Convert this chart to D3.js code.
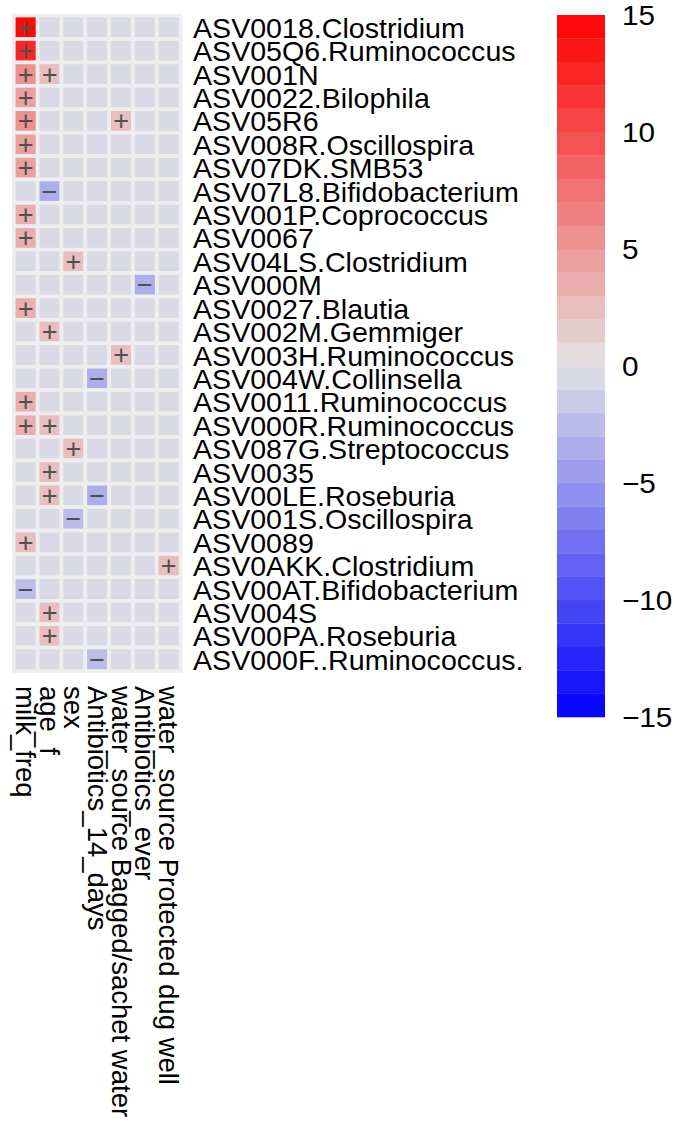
<!DOCTYPE html>
<html>
<head>
<meta charset="utf-8">
<script src="https://cdn.jsdelivr.net/npm/d3@7"></script>
<style>
  body { margin: 0; background: #ffffff; }
  text { font-family: "Liberation Sans", Arial, Helvetica, sans-serif; }
</style>
</head>
<body>
<svg id="chart" width="677" height="1126"></svg>
<script>
const rowNames = [
    "ASV0018.Clostridium", "ASV05Q6.Ruminococcus", "ASV001N", "ASV0022.Bilophila",
    "ASV05R6", "ASV008R.Oscillospira", "ASV07DK.SMB53", "ASV07L8.Bifidobacterium",
    "ASV001P.Coprococcus", "ASV0067", "ASV04LS.Clostridium", "ASV000M",
    "ASV0027.Blautia", "ASV002M.Gemmiger", "ASV003H.Ruminococcus", "ASV004W.Collinsella",
    "ASV0011.Ruminococcus", "ASV000R.Ruminococcus", "ASV087G.Streptococcus", "ASV0035",
    "ASV00LE.Roseburia", "ASV001S.Oscillospira", "ASV0089", "ASV0AKK.Clostridium",
    "ASV00AT.Bifidobacterium", "ASV004S", "ASV00PA.Roseburia", "ASV000F..Ruminococcus."
];

const colNames = [
    "milk_freq", "age_f", "sex", "Antibiotics_14_days",
    "water_source Bagged/sachet water", "Antibiotics_ever", "water_source Protected dug well"
];

// one array per column, 28 values (one per row)
const milkFreq       = [14.5, 12.5, 5.5, 5, 5.5, 5, 5, 0, 4, 4, 0, 0, 3.5, 0, 0, 0, 3.5, 3.5, 0, 0, 0, 0, 3, 0, -2.5, 0, 0, 0];
const ageF           = [0, 0, 2.5, 0, 0, 0, 0, -3.5, 0, 0, 0, 0, 0, 3, 0, 0, 0, 3, 0, 3, 2.5, 0, 0, 0, 0, 3, 2.5, 0];
const sexVals        = [0, 0, 0, 0, 0, 0, 0, 0, 0, 0, 3, 0, 0, 0, 0, 0, 0, 0, 3, 0, 0, -2.5, 0, 0, 0, 0, 0, 0];
const antibiotics14  = [0, 0, 0, 0, 0, 0, 0, 0, 0, 0, 0, 0, 0, 0, 0, -3, 0, 0, 0, 0, -3, 0, 0, 0, 0, 0, 0, -2.5];
const waterBagged    = [0, 0, 0, 0, 2.5, 0, 0, 0, 0, 0, 0, 0, 0, 0, 3, 0, 0, 0, 0, 0, 0, 0, 0, 0, 0, 0, 0, 0];
const antibioticsEver = [0, 0, 0, 0, 0, 0, 0, 0, 0, 0, 0, -3, 0, 0, 0, 0, 0, 0, 0, 0, 0, 0, 0, 0, 0, 0, 0, 0];
const waterDugWell   = [0, 0, 0, 0, 0, 0, 0, 0, 0, 0, 0, 0, 0, 0, 0, 0, 0, 0, 0, 0, 0, 0, 0, 2.5, 0, 0, 0, 0];

const columnValues = [milkFreq, ageF, sexVals, antibiotics14, waterBagged, antibioticsEver, waterDugWell];

const legendTicks = [15, 10, 5, 0, -5, -10, -15];
const legendMin = -15;
const legendMax = 15;

const fontSize = 27.5;
const signSize = 27;
const textStretch = 1.04; // text in the picture is a bit wider than tall

const svg = d3.select("#chart");

// binned colour palette, one colour per unit step
const rampColor = d3.scaleLinear()
    .domain([-15, -0.5, 0.5, 15])
    .range(["#0000ff", "#dadae6", "#e4dcdc", "#ff0000"])
    .interpolate(d3.interpolateRgb);

const breaks = d3.range(legendMin, legendMax + 1);
const binColors = breaks.slice(0, -1).map(function(b) { return rampColor(b + 0.5); });

function binColor(v) {
    let idx = Math.ceil(v) - legendMin - 1;
    idx = Math.max(0, Math.min(binColors.length - 1, idx));
    return binColors[idx];
}

// heatmap grid
const x = d3.scaleBand()
    .domain(colNames)
    .range([13.8, 180.6]);

const y = d3.scaleBand()
    .domain(rowNames)
    .range([15.6, 671]);

let cells = [];
for (let c = 0; c < colNames.length; c++) {
    for (let r = 0; r < rowNames.length; r++) {
        cells.push({row: rowNames[r], col: colNames[c], value: columnValues[c][r]});
    }
}

const grid = svg.append("g").attr("class", "grid");

grid.selectAll("rect")
    .data(cells)
    .join("rect")
    .attr("x", function(d) { return x(d.col); })
    .attr("y", function(d) { return y(d.row); })
    .attr("width", x.bandwidth())
    .attr("height", y.bandwidth())
    .attr("fill", function(d) { return binColor(d.value); })
    .attr("stroke", "#eeeeee")
    .attr("stroke-width", 3.6);

// significance signs
grid.selectAll("text")
    .data(cells.filter(function(d) { return d.value !== 0; }))
    .join("text")
    .attr("x", function(d) { return x(d.col) + x.bandwidth() / 2; })
    .attr("y", function(d) { return y(d.row) + y.bandwidth() / 2; })
    .attr("dy", "0.35em")
    .attr("text-anchor", "middle")
    .attr("font-size", signSize)
    .attr("fill", "#505050")
    .text(function(d) { return d.value > 0 ? "+" : "\u2212"; });

// row labels on the right
svg.append("g")
    .attr("class", "rowLabels")
    .selectAll("text")
    .data(rowNames)
    .join("text")
    .attr("transform", function(d) {
        return `translate(193,${y(d) + y.bandwidth() / 2 + 10.5}) scale(${textStretch},1)`;
    })
    .attr("font-size", fontSize)
    .attr("fill", "#000000")
    .text(function(d) { return d; });

// column labels below, reading downwards
svg.append("g")
    .attr("class", "colLabels")
    .selectAll("text")
    .data(colNames)
    .join("text")
    .attr("transform", function(d) {
        return `translate(${x(d) + x.bandwidth() / 2 - 9.5},686) rotate(90)`;
    })
    .attr("font-size", fontSize)
    .attr("fill", "#000000")
    .text(function(d) { return d; });

// colour legend
const legendY = d3.scaleLinear()
    .domain([legendMin, legendMax])
    .range([717, 15]);

const legend = svg.append("g").attr("class", "legend");

legend.selectAll("rect")
    .data(breaks.slice(0, -1))
    .join("rect")
    .attr("x", 557)
    .attr("width", 48)
    .attr("y", function(b) { return legendY(b + 1); })
    .attr("height", function(b) { return legendY(b) - legendY(b + 1) + 0.3; })
    .attr("fill", function(b, i) { return binColors[i]; });

legend.selectAll("text")
    .data(legendTicks)
    .join("text")
    .attr("transform", function(t) { return `translate(622,${legendY(t)}) scale(1.08,1)`; })
    .attr("dy", "0.35em")
    .attr("font-size", fontSize)
    .attr("fill", "#000000")
    .text(function(t) { return t < 0 ? "\u2212" + Math.abs(t) : String(t); });
</script>
</body>
</html>
